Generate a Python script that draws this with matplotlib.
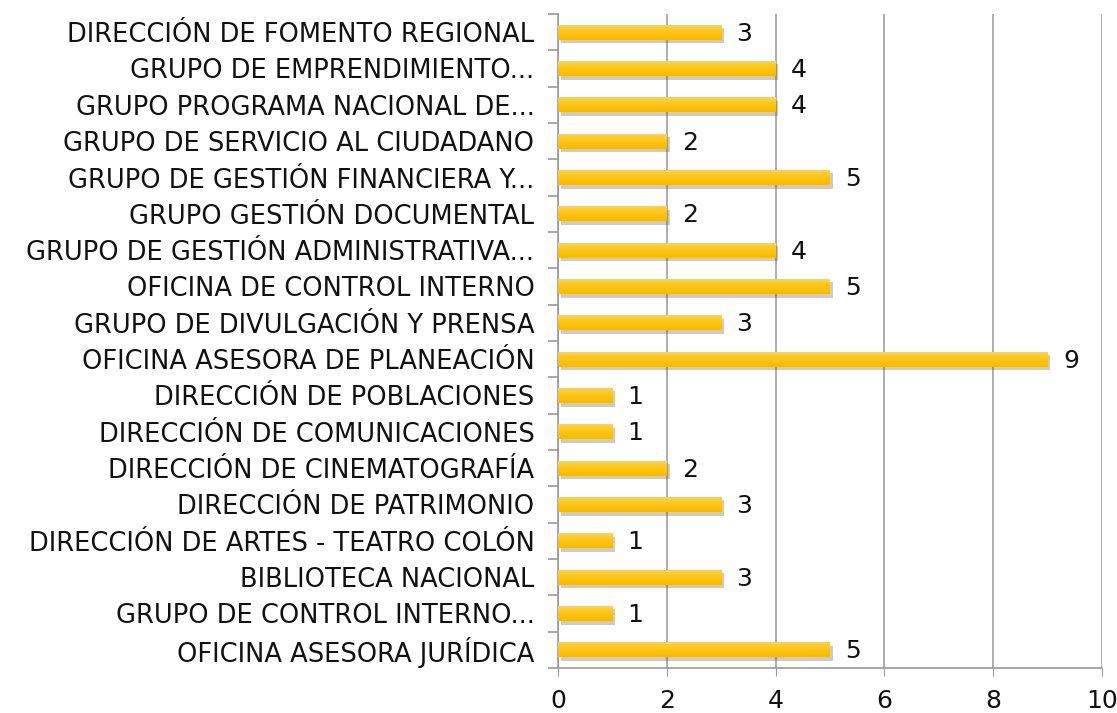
import matplotlib
matplotlib.use("Agg")
import matplotlib.pyplot as plt
import matplotlib.patheffects as pe
import numpy as np
from matplotlib.colors import LinearSegmentedColormap

categories = [
    "DIRECCIÓN DE FOMENTO REGIONAL",
    "GRUPO DE EMPRENDIMIENTO...",
    "GRUPO PROGRAMA NACIONAL DE...",
    "GRUPO DE SERVICIO AL CIUDADANO",
    "GRUPO DE GESTIÓN FINANCIERA Y...",
    "GRUPO GESTIÓN DOCUMENTAL",
    "GRUPO DE GESTIÓN ADMINISTRATIVA...",
    "OFICINA DE CONTROL INTERNO",
    "GRUPO DE DIVULGACIÓN Y PRENSA",
    "OFICINA ASESORA DE PLANEACIÓN",
    "DIRECCIÓN DE POBLACIONES",
    "DIRECCIÓN DE COMUNICACIONES",
    "DIRECCIÓN DE CINEMATOGRAFÍA",
    "DIRECCIÓN DE PATRIMONIO",
    "DIRECCIÓN DE ARTES - TEATRO COLÓN",
    "BIBLIOTECA NACIONAL",
    "GRUPO DE CONTROL INTERNO...",
    "OFICINA ASESORA JURÍDICA",
]
values = [3, 4, 4, 2, 5, 2, 4, 5, 3, 9, 1, 1, 2, 3, 1, 3, 1, 5]
xticks = [0, 2, 4, 6, 8, 10]

plt.rcParams['font.family'] = ['DejaVu Sans']

fig = plt.figure(figsize=(11.17, 7.13), dpi=100)
ax = fig.add_axes([558/1117, 1-668/713, (1102-558)/1117, (668-14)/713])

n = len(categories)
ypos = list(range(n))
bars = ax.barh(ypos, values, height=0.42, color="#FDC20C", zorder=3)
for b in bars:
    b.set_path_effects([pe.SimplePatchShadow(offset=(2, -2.5), shadow_rgbFace="#555555", alpha=0.3),
                        pe.Normal()])

ax.set_ylim(n - 0.5, -0.5)
ax.set_xlim(0, 10)

# vertical gradient fill on each bar (lighter on top)
cmap = LinearSegmentedColormap.from_list("gold", ["#FFD54A", "#FFC514", "#F6BA00"])
grad = np.linspace(0, 1, 64).reshape(-1, 1)
for b in bars:
    x0, y0 = b.get_x(), b.get_y()
    w, h = b.get_width(), b.get_height()
    im = ax.imshow(grad, cmap=cmap, aspect="auto", origin="lower",
                   extent=(x0, x0 + w, y0, y0 + h), zorder=3.5)
    im.set_clip_path(b)

ax.set_ylim(n - 0.5, -0.5)
ax.set_xlim(0, 10)
ax.set_aspect("auto")
ax.set_xticks(xticks)
ax.set_xticklabels([str(t) for t in xticks], fontsize=18, color="#111111")
ax.set_yticks(ypos)
ax.set_yticklabels(categories, fontsize=18.5, color="#111111")
ax.tick_params(axis='y', length=0, pad=17)
ax.tick_params(axis='x', length=6, color="#999999", pad=9)
ax.set_yticks([i - 0.5 for i in range(n + 1)], minor=True)
ax.tick_params(axis='y', which='minor', length=7, color="#999999", width=1.2)

ax.grid(axis='x', color="#A0A0A0", linewidth=1.2, zorder=0)
for s in ['top', 'right']:
    ax.spines[s].set_visible(False)
ax.spines['left'].set_color("#999999")
ax.spines['bottom'].set_color("#999999")
ax.spines['left'].set_linewidth(1.2)
ax.spines['bottom'].set_linewidth(1.2)

for y, v in zip(ypos, values):
    ax.annotate(str(v), (v, y), xytext=(11, -1), textcoords="offset points",
                va="center", ha="left", fontsize=18, color="#111111")

fig.savefig("out.png", dpi=100)
